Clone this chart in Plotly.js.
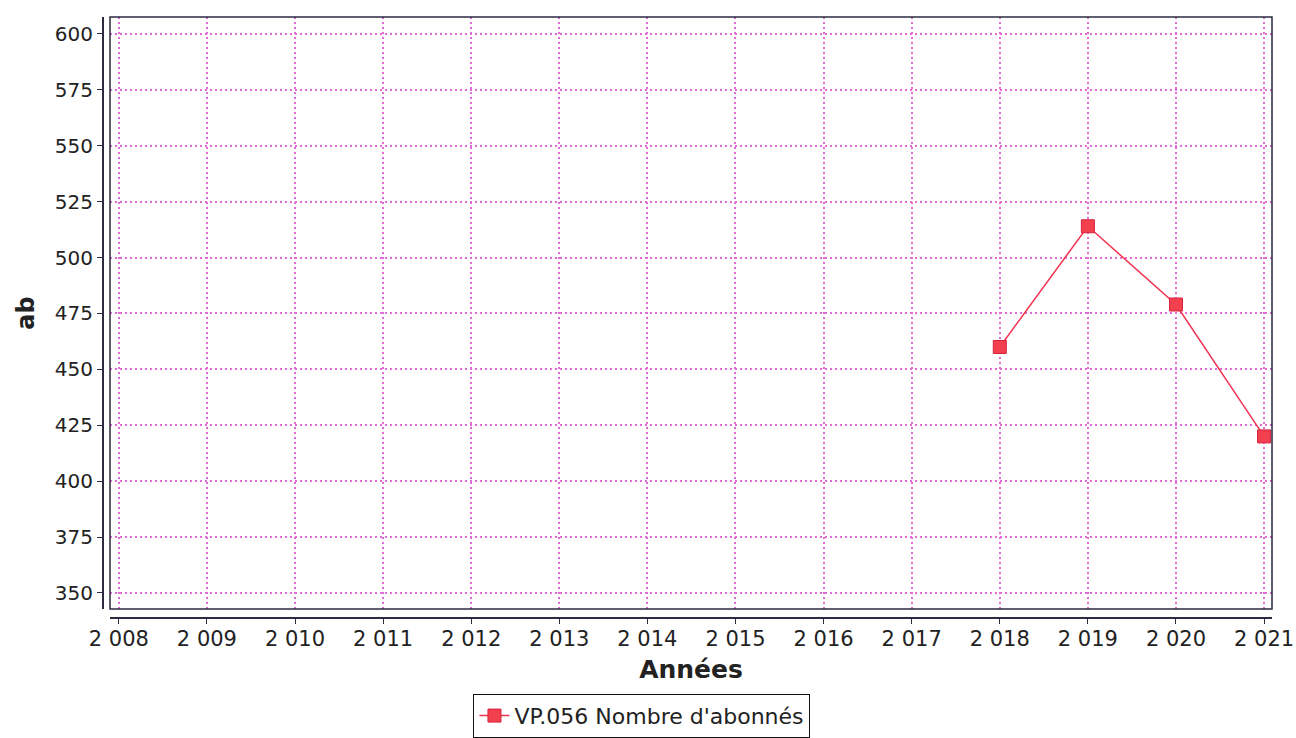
<!DOCTYPE html>
<html>
<head>
<meta charset="utf-8">
<script src="https://cdn.plot.ly/plotly-3.0.1.min.js"></script>
<style>html,body{margin:0;padding:0;background:#fff;}#chart{width:1296px;height:738px;}</style>
</head>
<body>
<div id="chart"></div>
<script>
const years = [2018, 2019, 2020, 2021];
const abonnes = [460, 514, 479, 420];
const seriesName = "VP.056 Nombre d'abonnés";
const xTitle = "Années";
const yTitle = "ab";

const font = "DejaVu Sans, Verdana, sans-serif";
const gridColor = "#e46ad8";
const axisColor = "#2a2a40";

const trace = {
  x: years, y: abonnes, name: seriesName,
  type: 'scatter', mode: 'lines+markers',
  line: {color: '#f2324f', width: 1.5},
  marker: {symbol: 'square', size: 13, color: '#f2404f', line: {color: '#d82040', width: 1}},
  cliponaxis: false
};

const layout = {
  width: 1296, height: 738,
  margin: {l: 102, r: 24, t: 17, b: 121, autoexpand: false},
  paper_bgcolor: '#fff', plot_bgcolor: '#fff',
  separators: '. ',
  font: {family: font, size: 20, color: '#222'},
  showlegend: true,
  legend: {
    x: 0.4615, y: -0.128, xanchor: 'center', yanchor: 'top',
    orientation: 'h', bordercolor: '#111', borderwidth: 1,
    font: {family: font, size: 22, color: '#222'},
    itemwidth: 30, tracegroupgap: 0
  },
  xaxis: {
    domain: [0.00684, 1], anchor: 'free', position: 0, automargin: false,
    range: [2007.9, 2021.09], dtick: 1, tick0: 2008, tickformat: ',d',
    showline: true, linecolor: axisColor, linewidth: 1.5,
    ticks: 'outside', ticklen: 5, tickcolor: axisColor, ticklabelstandoff: -3,
    showgrid: true, gridcolor: gridColor, griddash: '2px,3px', gridwidth: 2,
    zeroline: false,
    tickfont: {family: font, size: 21, color: '#222'},
    title: {text: xTitle, font: {family: font, size: 25, color: '#222', weight: 'bold'}, standoff: 11}
  },
  yaxis: {
    domain: [0.0133, 1], anchor: 'free', position: 0, automargin: false,
    range: [342.8, 607.6], dtick: 25, tick0: 350,
    showline: true, linecolor: axisColor, linewidth: 1.5,
    ticks: 'outside', ticklen: 5, tickcolor: axisColor,
    showgrid: true, gridcolor: gridColor, griddash: '2px,3px', gridwidth: 2,
    zeroline: false,
    tickfont: {family: font, size: 20, color: '#222'},
    title: {text: yTitle, font: {family: font, size: 24, color: '#222', weight: 'bold'}, standoff: 12}
  },
  shapes: [{
    type: 'rect', xref: 'x domain', yref: 'y domain', x0: 0, x1: 1, y0: 0, y1: 1,
    line: {color: axisColor, width: 1.5}, fillcolor: 'rgba(0,0,0,0)', layer: 'above'
  }]
};

Plotly.newPlot('chart', [trace], layout, {displayModeBar: false, staticPlot: true});
</script>
</body>
</html>
